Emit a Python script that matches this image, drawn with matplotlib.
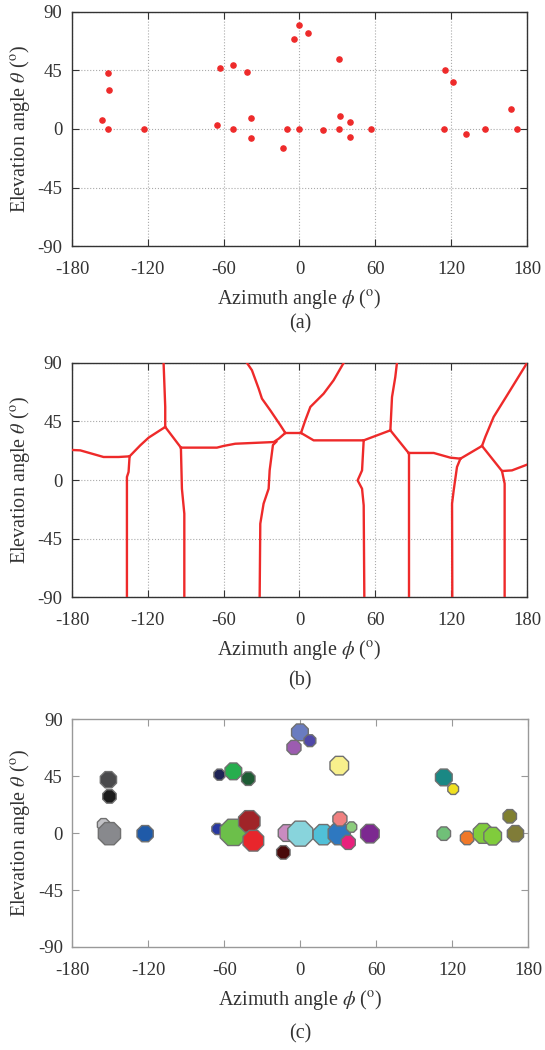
import numpy as np
import matplotlib
matplotlib.use('Agg')
import matplotlib.pyplot as plt
from matplotlib import rcParams

rcParams['font.family'] = ['Liberation Serif', 'DejaVu Serif']
rcParams['mathtext.fontset'] = 'stix'
rcParams['axes.unicode_minus'] = False

# (a) detected source directions
src_phi = [-156.5, -151.5, -150.5, -151.5, -123.3, -65.3, -63.2, -52.4, -52.4, -41.3,
           -38.1, -38.1, -13.1, -10.2, -4.1, 0.0, 0.0, 6.7, 18.9, 31.0,
           31.0, 32.0, 40.0, 40.0, 56.8, 114.9, 114.1, 121.2, 132.0, 147.0,
           167.1, 172.1]
src_theta = [7.2, 43.2, 30.1, 0.0, 0.0, 3.1, 47.1, 49.1, 0.0, 44.0,
             8.2, -6.9, -14.9, 0.0, 69.2, 80.0, 0.0, 74.1, -1.0, 54.0,
             0.0, 10.0, 5.1, -5.9, 0.0, 45.3, 0.0, 36.0, -3.9, 0.0,
             15.2, 0.0]

# (b) region boundaries, each one a polyline of (phi, theta)
boundaries = [
    [(-180, 23.1), (-173.4, 22.8), (-155.0, 17.7), (-143.1, 17.7), (-134.4, 18.2)],
    [(-134.4, 18.2), (-125.9, 26.7), (-119.3, 32.6), (-106.2, 40.8)],
    [(-106.2, 40.8), (-106.2, 56.2), (-107.5, 90)],
    [(-134.4, 18.2), (-135.2, 6.2), (-136.5, 2.3), (-136.5, -90)],
    [(-106.2, 40.8), (-93.8, 24.9)],
    [(-93.8, 24.9), (-93.0, -6.7), (-91.1, -25.9), (-91.1, -90)],
    [(-93.8, 24.9), (-65.3, 24.9), (-60.0, 26.2), (-50.8, 27.9), (-20.4, 29.2),
     (-16.4, 31.8), (-11.2, 36.2)],
    [(-11.2, 36.2), (-15.1, 42.1), (-23.1, 53.6), (-29.7, 62.6), (-32.3, 70.3),
     (-37.6, 84.4), (-41.5, 90)],
    [(-11.2, 36.2), (1.2, 36.2)],
    [(1.2, 36.2), (4.6, 45.9), (8.6, 56.2), (19.1, 66.4), (27.0, 76.7), (34.9, 90)],
    [(1.2, 36.2), (11.2, 30.5), (50.8, 30.5)],
    [(-18.3, 29.5), (-21.0, 26.9), (-23.6, 7.4), (-24.4, -6.7), (-28.4, -18.2),
     (-31.0, -33.6), (-31.5, -90)],
    [(50.8, 30.5), (49.5, 7.4), (46.0, -0.3), (49.5, -6.7), (50.8, -19.5), (51.3, -90)],
    [(50.8, 30.5), (71.9, 38.2)],
    [(71.9, 38.2), (73.2, 63.8), (75.8, 79.2), (77.1, 90)],
    [(71.9, 38.2), (86.3, 20.8)],
    [(86.3, 20.8), (86.3, -90)],
    [(86.3, 20.8), (106.2, 20.8), (119.3, 17.2), (127.3, 16.4)],
    [(127.3, 16.4), (124.6, 10.0), (122.0, -7.9), (120.7, -18.2), (120.9, -90)],
    [(127.3, 16.4), (144.4, 26.2)],
    [(144.4, 26.2), (147.0, 33.1), (153.6, 48.5), (164.2, 65.1), (180, 90)],
    [(144.4, 26.2), (160.2, 6.9), (168.1, 7.4), (180, 11.8)],
    [(160.2, 6.9), (162.3, -2.8), (162.3, -90)],
]

# (c) clustered regions
blob_phi = [-151.6, -150.8, -155.5, -150.8, -122.6, -63.9, -52.9, -41.1, -65.5, -52.9,
            -40.3, -37.1, -13.4, -10.8, 0.0, 18.2, 30.8, 31.3, 40.5, 37.9,
            55.0, -0.3, -5.0, 7.6, 30.8, 113.4, 120.8, 113.4, 131.8, 144.5,
            152.0, 165.5, 170.0]
blob_theta = [42.1, 28.9, 6.6, -0.5, -0.5, 46.1, 48.7, 42.9, 3.2, 0.5,
              9.2, -6.1, -15.3, 0.0, -0.5, -1.3, -0.5, 11.1, 4.7, -7.4,
              -0.5, 79.5, 67.6, 72.9, 53.2, 43.9, 34.7, -0.5, -3.9, -0.3,
              -2.5, 13.2, -0.5]
blob_colors = ['#4a4a4c', '#1c1c1c', '#c2c2c6', '#88898d', '#1f5aa8', '#1f2456', '#27ae4e',
               '#1e5c34', '#2838a0', '#6cbf4a', '#a02428', '#e8262c', '#4a0a0a', '#c98bc0',
               '#88d4dc', '#50c0d8', '#2e78c0', '#f08080', '#8ccc7c', '#e8207c', '#7c2890',
               '#6a7cc0', '#9c5cb0', '#5048a8', '#f8f08c', '#1a8884', '#f0e020', '#70c078',
               '#f07828', '#80cc3c', '#80cc3c', '#808030', '#807c38']
blob_size = [160, 110, 90, 300, 160, 75, 170, 110, 75, 420,
             280, 260, 110, 170, 380, 250, 300, 120, 65, 120,
             210, 170, 120, 85, 210, 170, 70, 110, 110, 240,
             190, 110, 160]

ticks_x = [-180, -120, -60, 0, 60, 120, 180]
ticks_y = [-90, -45, 0, 45, 90]


def style_axes(ax, edge='#333333', grid=True):
    ax.set_xlim(-180, 180)
    ax.set_ylim(-90, 90)
    ax.set_xticks(ticks_x)
    ax.set_yticks(ticks_y)
    ax.tick_params(direction='in', top=True, right=True, labelsize=13.5,
                   colors=edge, labelcolor='#333333', length=5)
    ax.tick_params(axis='x', pad=11)
    ax.tick_params(axis='y', pad=7)
    for s in ax.spines.values():
        s.set_color(edge)
        s.set_linewidth(1.0)
    if grid:
        ax.grid(True, linestyle=':', color='#aaaaaa', linewidth=0.8)
        ax.set_axisbelow(True)
    ax.set_xlabel(r'Azimuth angle $\phi$ ($^{\mathrm{o}}$)', fontsize=14.5,
                  color='#333333', labelpad=6)
    ax.set_ylabel(r'Elevation angle $\theta$ ($^{\mathrm{o}}$)', fontsize=14.5,
                  color='#333333', labelpad=4)


fig = plt.figure(figsize=(5.45, 10.5), dpi=100)
ax1 = fig.add_axes([0.132, 0.7657, 0.835, 0.2229])
ax2 = fig.add_axes([0.132, 0.4314, 0.835, 0.2229])
ax3 = fig.add_axes([0.133, 0.0981, 0.836, 0.2171])

ax1.scatter(src_phi, src_theta, s=14, color='#ee2a2a', zorder=3)
style_axes(ax1)

for line in boundaries:
    pts = np.array(line)
    ax2.plot(pts[:, 0], pts[:, 1], color='#ee2a2a', linewidth=1.7,
             solid_joinstyle='round', zorder=3)
style_axes(ax2)

ax3.scatter(blob_phi, blob_theta, s=blob_size, c=blob_colors, marker='8',
            edgecolors='#707070', linewidths=1.0, zorder=3)
style_axes(ax3, edge='#999999', grid=False)

fig.text(0.55, 1 - 324 / 1050, '(a)', ha='center', va='center', fontsize=14.5, color='#333333')
fig.text(0.55, 1 - 681 / 1050, '(b)', ha='center', va='center', fontsize=14.5, color='#333333')
fig.text(0.55, 1 - 1034 / 1050, '(c)', ha='center', va='center', fontsize=14.5, color='#333333')

plt.savefig('out.png', dpi=100)
